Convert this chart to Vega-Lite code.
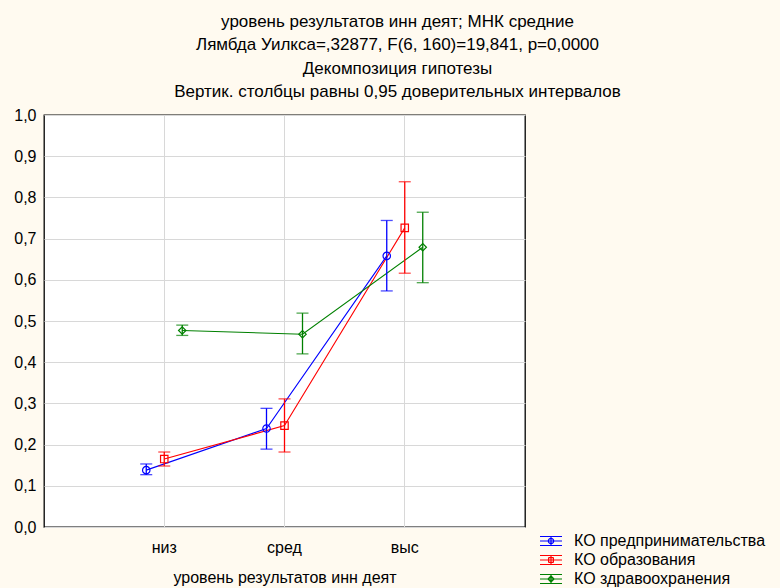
{
  "$schema": "https://vega.github.io/schema/vega-lite/v6.json",
  "autosize": {"type": "none"},
  "padding": {"left": 44, "top": 115, "right": 255, "bottom": 61},
  "width": 481,
  "height": 412,
  "background": "#fffaf0",
  "title": {
    "text": ["уровень результатов инн деят; МНК средние", "Лямбда Уилкса=,32877, F(6, 160)=19,841, p=0,0000", "Декомпозиция гипотезы", "Вертик. столбцы равны 0,95 доверительных интервалов"],
    "anchor": "middle",
    "frame": "group",
    "dx": 113,
    "offset": 6,
    "fontSize": 17,
    "fontWeight": "normal",
    "font": "Liberation Sans",
    "lineHeight": 23.3,
    "color": "#000000"
  },
  "data": {
    "values": [
      {"series": "КО предпринимательства", "level": "низ", "mean": 0.138, "lo": 0.127, "hi": 0.153},
      {"series": "КО предпринимательства", "level": "сред", "mean": 0.239, "lo": 0.189, "hi": 0.288},
      {"series": "КО предпринимательства", "level": "выс", "mean": 0.658, "lo": 0.573, "hi": 0.744},
      {"series": "КО образования", "level": "низ", "mean": 0.165, "lo": 0.148, "hi": 0.182},
      {"series": "КО образования", "level": "сред", "mean": 0.246, "lo": 0.182, "hi": 0.311},
      {"series": "КО образования", "level": "выс", "mean": 0.726, "lo": 0.616, "hi": 0.838},
      {"series": "КО здравоохранения", "level": "низ", "mean": 0.477, "lo": 0.465, "hi": 0.490},
      {"series": "КО здравоохранения", "level": "сред", "mean": 0.468, "lo": 0.420, "hi": 0.519},
      {"series": "КО здравоохранения", "level": "выс", "mean": 0.679, "lo": 0.593, "hi": 0.764}
    ]
  },
  "encoding": {
    "x": {
      "field": "level", "type": "nominal",
      "scale": {"type": "band", "domain": ["низ", "сред", "выс"], "paddingInner": 0.7006, "paddingOuter": 0.8503},
      "axis": {
        "title": "уровень результатов инн деят",
        "labelAngle": 0,
        "bandPosition": 0.5,
        "grid": true,
        "ticks": false,
        "domain": false,
        "labelPadding": 12,
        "titlePadding": 14
      }
    },
    "xOffset": {
      "field": "series", "type": "nominal",
      "scale": {"type": "point", "domain": ["КО предпринимательства", "КО образования", "КО здравоохранения"], "padding": 0}
    },
    "color": {
      "field": "series", "type": "nominal",
      "scale": {"domain": ["КО предпринимательства", "КО образования", "КО здравоохранения"], "range": ["#0000ff", "#ff0000", "#008000"]},
      "legend": {
        "title": null,
        "orient": "none",
        "legendX": 496,
        "legendY": 415,
        "padding": 0,
        "rowPadding": 0,
        "symbolSize": 400,
        "symbolType": "M-1.1,-0.45H1.1M-1.1,0.45H1.1M-1.1,0H1.1M0,-0.45V0.45",
        "symbolStrokeWidth": 1.2,
        "symbolFillColor": "transparent",
        "symbolOpacity": 1,
        "labelFontSize": 16,
        "labelFont": "Liberation Sans",
        "labelColor": "#000000",
        "labelOffset": 12,
        "labelLimit": 0,
        "encoding": {
          "symbols": {
            "strokeWidth": {"value": 1.2},
            "shape": {"value": {"expr": "datum.value === 'КО предпринимательства' ? 'M-1.1,-0.45H1.1M-1.1,0.45H1.1M-1.1,0H1.1M0,-0.45V0.45M-0.27,0A0.27,0.27 0 0 0 0.27,0A0.27,0.27 0 0 1 -0.27,0M-0.27,0A0.27,0.27 0 0 1 0.27,0A0.27,0.27 0 0 0 -0.27,0' : datum.value === 'КО образования' ? 'M-1.1,-0.45H1.1M-1.1,0.45H1.1M-1.1,0H1.1M0,-0.45V0.45M-0.24,-0.24H0.24M0.24,-0.24V0.24M0.24,0.24H-0.24M-0.24,0.24V-0.24' : 'M-1.1,-0.45H1.1M-1.1,0.45H1.1M-1.1,0H1.1M0,-0.45V0.45M0,-0.3L0.3,0M0.3,0L0,0.3M0,0.3L-0.3,0M-0.3,0L0,-0.3'"}}
          }
        }
      }
    }
  },
  "layer": [
    {
      "mark": {"type": "line", "strokeWidth": 1.1},
      "encoding": {
        "y": {
          "field": "mean", "type": "quantitative",
          "scale": {"domain": [0, 1], "nice": false, "zero": false},
          "axis": {
            "title": null,
            "values": [0, 0.1, 0.2, 0.3, 0.4, 0.5, 0.6, 0.7, 0.8, 0.9, 1.0],
            "labelExpr": "replace(format(datum.value, '.1f'), '.', ',')",
            "grid": true,
            "ticks": false,
            "domain": false,
            "labelPadding": 8
          }
        },
        "detail": {"field": "series"}
      }
    },
    {
      "mark": {"type": "rule", "strokeWidth": 1.3},
      "encoding": {
        "y": {"field": "lo", "type": "quantitative"},
        "y2": {"field": "hi"}
      }
    },
    {
      "mark": {"type": "tick", "orient": "horizontal", "size": 12, "thickness": 1.3},
      "encoding": {
        "y": {"field": "lo", "type": "quantitative"}
      }
    },
    {
      "mark": {"type": "tick", "orient": "horizontal", "size": 12, "thickness": 1.3},
      "encoding": {
        "y": {"field": "hi", "type": "quantitative"}
      }
    },
    {
      "mark": {"type": "point", "filled": false, "strokeWidth": 1.2, "size": 55, "opacity": 1},
      "encoding": {
        "y": {"field": "mean", "type": "quantitative"},
        "shape": {
          "condition": [
            {"test": "datum.series === 'КО образования'", "value": "square"},
            {"test": "datum.series === 'КО здравоохранения'", "value": "diamond"}
          ],
          "value": "circle"
        }
      }
    }
  ],
  "config": {
    "view": {"stroke": "#000000", "strokeWidth": 1.3, "fill": "#ffffff"},
    "axis": {
      "labelFont": "Liberation Sans",
      "labelFontSize": 16,
      "labelColor": "#000000",
      "titleFont": "Liberation Sans",
      "titleFontSize": 16,
      "titleFontWeight": "normal",
      "titleColor": "#000000",
      "gridColor": "#d8d8d8",
      "gridWidth": 1,
      "gridOpacity": 1
    }
  }
}
